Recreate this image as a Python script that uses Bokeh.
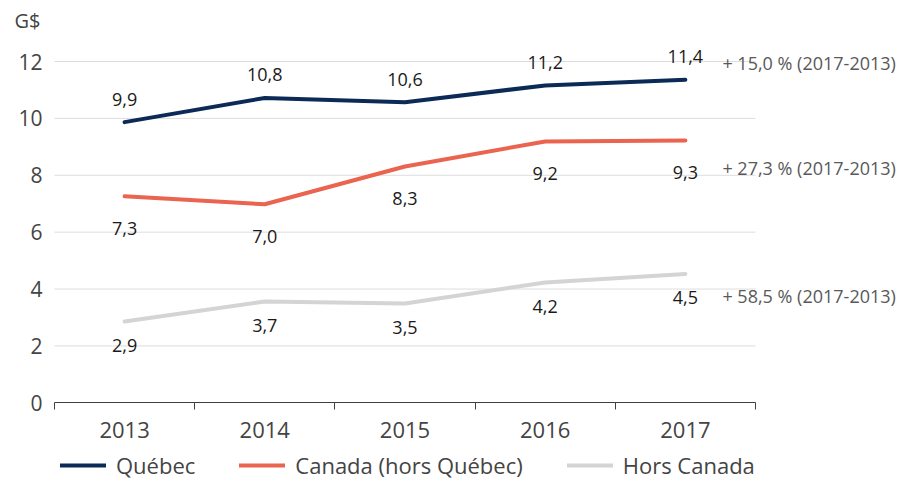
from bokeh.plotting import figure
from bokeh.models import (Range1d, FixedTicker, Legend, LegendItem, ColumnDataSource)
from bokeh.core.properties import value
from bokeh.embed import file_html
from bokeh.resources import INLINE

years = ["2013", "2014", "2015", "2016", "2017"]
quebec = [9.87, 10.72, 10.57, 11.16, 11.36]
canada = [7.26, 6.98, 8.31, 9.19, 9.22]
hors_canada = [2.86, 3.56, 3.49, 4.23, 4.53]
quebec_labels = ["9,9", "10,8", "10,6", "11,2", "11,4"]
canada_labels = ["7,3", "7,0", "8,3", "9,2", "9,3"]
hors_labels = ["2,9", "3,7", "3,5", "4,2", "4,5"]
growth = ["+ 15,0 % (2017-2013)", "+ 27,3 % (2017-2013)", "+ 58,5 % (2017-2013)"]
series_names = ["Québec", "Canada (hors Québec)", "Hors Canada"]
y_ticks = [0, 2, 4, 6, 8, 10, 12]
unit = "G$"

FONT = "Open Sans"
colors = ["#0b2a55", "#ea6450", "#d4d4d4"]

n = len(years)
xs = [i + 0.5 for i in range(n)]

p = figure(frame_width=897, frame_height=479, min_border=0,
           x_range=Range1d(-0.385, 6.013), y_range=Range1d(-2.697, 14.146),
           output_backend="svg", toolbar_location=None)
p.outline_line_color = None
p.background_fill_color = "white"
p.xgrid.grid_line_color = None
p.ygrid.grid_line_color = None

# light horizontal gridlines across the category span
gy = [t for t in y_ticks if t != 0]
p.segment(x0=[0] * len(gy), x1=[n] * len(gy), y0=gy, y1=gy, line_color="#dddddd", line_width=1)

# axes placed at fixed locations inside the frame
p.xaxis.fixed_location = 0
p.xaxis.bounds = (0, n)
p.xaxis.ticker = FixedTicker(ticks=xs, minor_ticks=list(range(n + 1)))
p.xaxis.major_label_overrides = {x: y for x, y in zip(xs, years)}
p.xaxis.major_tick_out = 0
p.xaxis.major_tick_in = 0
p.xaxis.minor_tick_out = 7
p.xaxis.minor_tick_in = 0
p.xaxis.minor_tick_line_color = "#404040"
p.xaxis.axis_line_color = "#404040"
p.xaxis.major_label_standoff = 12
p.xaxis.major_label_text_font = FONT
p.xaxis.major_label_text_font_size = "22px"
p.xaxis.major_label_text_color = "#444444"

p.yaxis.fixed_location = 0
p.yaxis.ticker = FixedTicker(ticks=y_ticks, minor_ticks=[])
p.yaxis.axis_line_color = None
p.yaxis.major_tick_line_color = None
p.yaxis.major_tick_out = 0
p.yaxis.major_tick_in = 0
p.yaxis.major_label_standoff = 12
p.yaxis.major_label_text_font = FONT
p.yaxis.major_label_text_font_size = "21px"
p.yaxis.major_label_text_color = "#444444"

series = [quebec, canada, hors_canada]
labels = [quebec_labels, canada_labels, hors_labels]
offsets = [-23, 32, 24]
growth_offsets = [-17, 27, 22]
items = []
for vals, labs, col, name, off, g, goff in zip(series, labels, colors, series_names,
                                               offsets, growth, growth_offsets):
    src = ColumnDataSource(dict(x=xs, y=vals, t=labs))
    r = p.line("x", "y", source=src, line_color=col, line_width=4, line_cap="round")
    p.text("x", "y", text="t", source=src, text_align="center", text_baseline="middle",
           y_offset=off, text_font=value(FONT), text_font_size="18px", text_color="#1a1a1a")
    p.text(x=[xs[-1]], y=[vals[-1]], text=[g], x_offset=37, y_offset=goff,
           text_align="left", text_baseline="middle",
           text_font=value(FONT), text_font_size="18px", text_color="#595959")
    items.append(LegendItem(label=name, renderers=[r]))

p.text(x=[-0.285], y=[13.44], text=[unit], text_align="left", text_baseline="middle",
       text_font=value(FONT), text_font_size="20px", text_color="#444444")

legend = Legend(items=items, orientation="horizontal", location=(60, -1),
                glyph_width=46, glyph_height=20, label_standoff=10, spacing=44,
                padding=0, margin=0, border_line_alpha=0, background_fill_alpha=0,
                label_text_font=FONT, label_text_font_size="22px", label_text_color="#444444")
p.add_layout(legend, "center")

open("out.html", "w").write(file_html(p, INLINE))
